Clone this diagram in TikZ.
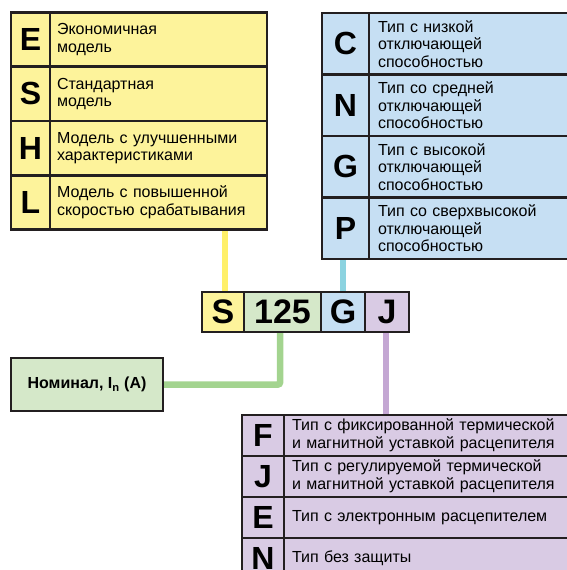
\documentclass[tikz,border=0pt]{standalone}
\usepackage{fontspec}
\setmainfont{Liberation Sans}
\usetikzlibrary{positioning,backgrounds}

\definecolor{edge}{RGB}{35,31,32}
\definecolor{yelfill}{RGB}{253,243,155}
\definecolor{yelline}{RGB}{255,240,105}
\definecolor{bluefill}{RGB}{198,223,243}
\definecolor{blueline}{RGB}{140,211,224}
\definecolor{grnfill}{RGB}{213,232,201}
\definecolor{grnline}{RGB}{163,212,143}
\definecolor{viofill}{RGB}{217,203,228}
\definecolor{violine}{RGB}{196,167,211}

\tikzset{
  cell/.style={draw=edge, line width=2.6pt, inner sep=0pt, outer sep=0pt, anchor=north west},
  letter/.style={cell, font=\bfseries\fontsize{32}{32}\selectfont},
  descr/.style={cell, align=left, inner xsep=7pt, font=\fontsize{16}{17.5}\selectfont},
  wire/.style={line width=6.5pt}
}

\begin{document}
\begin{tikzpicture}[x=1pt,y=-1pt]
\useasboundingbox (0,0) rectangle (567,570);
\clip (0,0) rectangle (567,570);
% model series
\foreach \k/\l/\t in {0/E/{Экономичная\\модель}, 1/S/{Стандартная\\модель},
  2/H/{Модель с улучшенными\\характеристиками}, 3/L/{Модель с повышенной\\скоростью срабатывания}}{
  \node[letter, fill=yelfill, minimum width=39pt, minimum height=54.25pt] (y\k-l) at (11,12.5+54.25*\k) {\l};
  \node[descr, fill=yelfill, text width=203pt, minimum height=54.25pt] (y\k-t) at (y\k-l.north east) {\t};
}
% breaking capacity
\foreach \k/\l/\t in {0/C/{Тип с низкой\\отключающей\\способностью}, 1/N/{Тип со средней\\отключающей\\способностью},
  2/G/{Тип с высокой\\отключающей\\способностью}, 3/P/{Тип со сверхвысокой\\отключающей\\способностью}}{
  \node[letter, fill=bluefill, minimum width=47pt, minimum height=61.5pt] (b\k-l) at (322,13+61.5*\k) {\l};
  \node[descr, fill=bluefill, inner xsep=9pt, text width=260pt, minimum height=61.5pt] (b\k-t) at (b\k-l.north east) {\t};
}
% trip unit
\foreach \k/\l/\t in {0/F/{Тип с фиксированной термической\\и магнитной уставкой расцепителя},
  1/J/{Тип с регулируемой термической\\и магнитной уставкой расцепителя},
  2/E/{Тип с электронным расцепителем}, 3/N/{Тип без защиты}}{
  \node[letter, fill=viofill, minimum width=42pt, minimum height=41pt] (v\k-l) at (242,415+41*\k) {\l};
  \node[descr, fill=viofill, inner xsep=8pt, text width=300pt, minimum height=41pt,
    font=\fontsize{16}{18}\selectfont] (v\k-t) at (v\k-l.north east) {\t};
}
% code
\tikzset{codebox/.style={letter, minimum height=40pt, font=\bfseries\fontsize{34}{34}\selectfont}}
\node[codebox, fill=yelfill, minimum width=42pt] (cS) at (202,292) {S};
\node[codebox, fill=grnfill, minimum width=77pt] (c125) at (cS.north east) {125};
\node[codebox, fill=bluefill, minimum width=44pt] (cG) at (c125.north east) {G};
\node[codebox, fill=viofill, minimum width=44pt] (cJ) at (cG.north east) {J};
\node[cell, fill=grnfill, minimum width=152pt, minimum height=53pt,
  font=\bfseries\fontsize{16}{18}\selectfont] (nom) at (11,358) {Номинал, I\textsubscript{n} (A)};
\begin{scope}[on background layer]
\draw[wire, yelline] ([xshift=2pt]cS.north) -- ([xshift=2pt]cS.north |- y3-l.south);
\draw[wire, blueline] (cG.north) -- (cG.north |- b3-l.south);
\draw[wire, grnline, rounded corners=2pt] ([xshift=-2.5pt]c125.south) |- (nom.east);
\draw[wire, violine] ([xshift=-1pt]cJ.south) -- ([xshift=-1pt]cJ.south |- v0-l.north);
\end{scope}
\end{tikzpicture}
\end{document}
